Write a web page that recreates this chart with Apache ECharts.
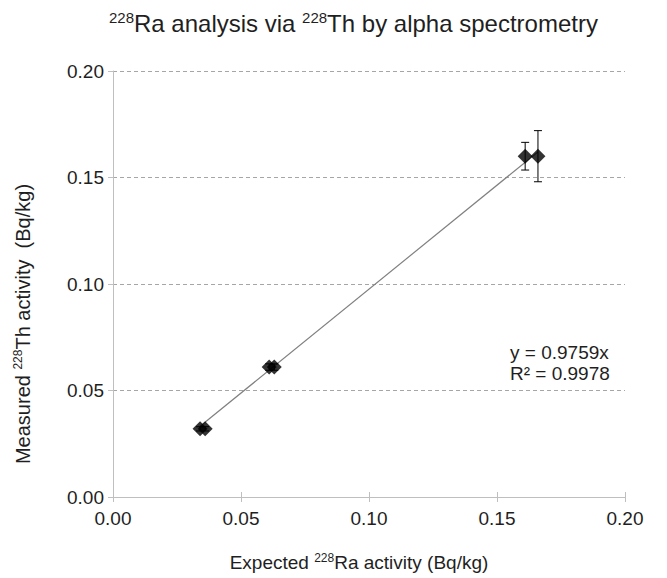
<!DOCTYPE html>
<html>
<head>
<meta charset="utf-8">
<script src="https://cdn.jsdelivr.net/npm/echarts@6/dist/echarts.min.js"></script>
<style>
  html, body { margin: 0; background: #fff; }
  #chart { width: 667px; height: 578px; }
</style>
</head>
<body>
<div id="chart"></div>
<script>
var expected = [0.034, 0.036, 0.061, 0.063, 0.161, 0.166];
var measured = [0.032, 0.032, 0.061, 0.061, 0.160, 0.160];
var errors   = [0.001, 0.001, 0.0015, 0.0015, 0.0065, 0.012];
var slope = 0.9759;
var rSquared = 0.9978;

(function() {
  var ink = '#1f1f1f';
  var axisGrey = '#bfbfbf';
  var font = 'Liberation Sans, Arial, sans-serif';
  var sup = { fontSize: 12, verticalAlign: 'top', padding: [0, 0, 9, 0], color: ink, fontFamily: font };
  var supT = { fontSize: 15, verticalAlign: 'top', padding: [0, 0, 11, 0], color: ink, fontFamily: font };

  var points = expected.map(function(x, i) { return [x, measured[i]]; });
  var bars = expected.map(function(x, i) { return [x, measured[i] - errors[i], measured[i] + errors[i]]; });
  var xMin = Math.min.apply(null, expected), xMax = Math.max.apply(null, expected);
  var trend = [[xMin, slope * xMin], [xMax, slope * xMax]];
  var fmt = function(v) { return v.toFixed(2); };

  var chart = echarts.init(document.getElementById('chart'), null, { renderer: 'svg' });
  chart.setOption({
    animation: false,
    textStyle: { fontFamily: font },
    title: {
      text: '{s|228}Ra analysis via {s|228}Th by alpha spectrometry',
      left: 104, top: 5,
      textStyle: { fontSize: 24, fontWeight: 'normal', color: ink, fontFamily: font, rich: { s: supT } }
    },
    grid: { left: 113, right: 42, top: 71, bottom: 81 },
    xAxis: [{
      type: 'value', min: 0, max: 0.2, interval: 0.05,
      name: 'Expected {s|228}Ra activity (Bq/kg)',
      nameLocation: 'middle', nameGap: 55,
      nameTextStyle: { fontSize: 19, color: ink, padding: [0, 20, 0, 0], rich: { s: sup } },
      axisLine: { lineStyle: { color: axisGrey, width: 1 } },
      axisTick: { show: true, length: 5, lineStyle: { color: axisGrey } },
      axisLabel: { fontSize: 19, color: ink, margin: 12, formatter: fmt },
      splitLine: { show: false }
    }, {
      type: 'value', min: 0, max: 0.2, interval: 0.05, position: 'bottom',
      axisLine: { show: false },
      axisTick: { show: true, inside: true, length: 5, lineStyle: { color: axisGrey } },
      axisLabel: { show: false },
      splitLine: { show: false }
    }],
    yAxis: {
      type: 'value', min: 0, max: 0.2, interval: 0.05,
      name: 'Measured {s|228}Th activity  (Bq/kg)',
      nameLocation: 'middle', nameGap: 80, nameRotate: 90,
      nameTextStyle: { fontSize: 20, color: ink, padding: [0, 80, 0, 0], rich: { s: sup } },
      axisLine: { show: true, lineStyle: { color: axisGrey, width: 1 } },
      axisTick: { show: true, length: 5, lineStyle: { color: axisGrey } },
      axisLabel: { fontSize: 19, color: ink, margin: 9, formatter: fmt },
      splitLine: { show: true, lineStyle: { color: '#a6a6a6', type: [4, 3], width: 1 } }
    },
    graphic: [
      { type: 'text', left: 510, top: 343, style: { text: 'y = ' + slope.toFixed(4) + 'x', fontSize: 19, fill: ink, fontFamily: font } },
      { type: 'text', left: 510, top: 364, style: { text: 'R\u00b2 = ' + rSquared.toFixed(4), fontSize: 19, fill: ink, fontFamily: font } }
    ],
    series: [
      {
        type: 'line', data: trend, showSymbol: false, z: 1,
        lineStyle: { color: '#808080', width: 1.2 }
      },
      {
        type: 'custom', data: bars, z: 2,
        encode: { x: 0, y: [1, 2] },
        renderItem: function(params, api) {
          var lo = api.coord([api.value(0), api.value(1)]);
          var hi = api.coord([api.value(0), api.value(2)]);
          var w = 4;
          var st = { stroke: '#000', lineWidth: 1 };
          return {
            type: 'group',
            children: [
              { type: 'line', shape: { x1: lo[0], y1: lo[1], x2: hi[0], y2: hi[1] }, style: st },
              { type: 'line', shape: { x1: lo[0] - w, y1: lo[1], x2: lo[0] + w, y2: lo[1] }, style: st },
              { type: 'line', shape: { x1: hi[0] - w, y1: hi[1], x2: hi[0] + w, y2: hi[1] }, style: st }
            ]
          };
        }
      },
      {
        type: 'scatter', data: points, z: 3,
        symbol: 'diamond', symbolSize: 15,
        itemStyle: { color: '#000' }
      }
    ]
  });
  window.addEventListener('resize', function() { chart.resize(); });
})();
</script>
</body>
</html>
